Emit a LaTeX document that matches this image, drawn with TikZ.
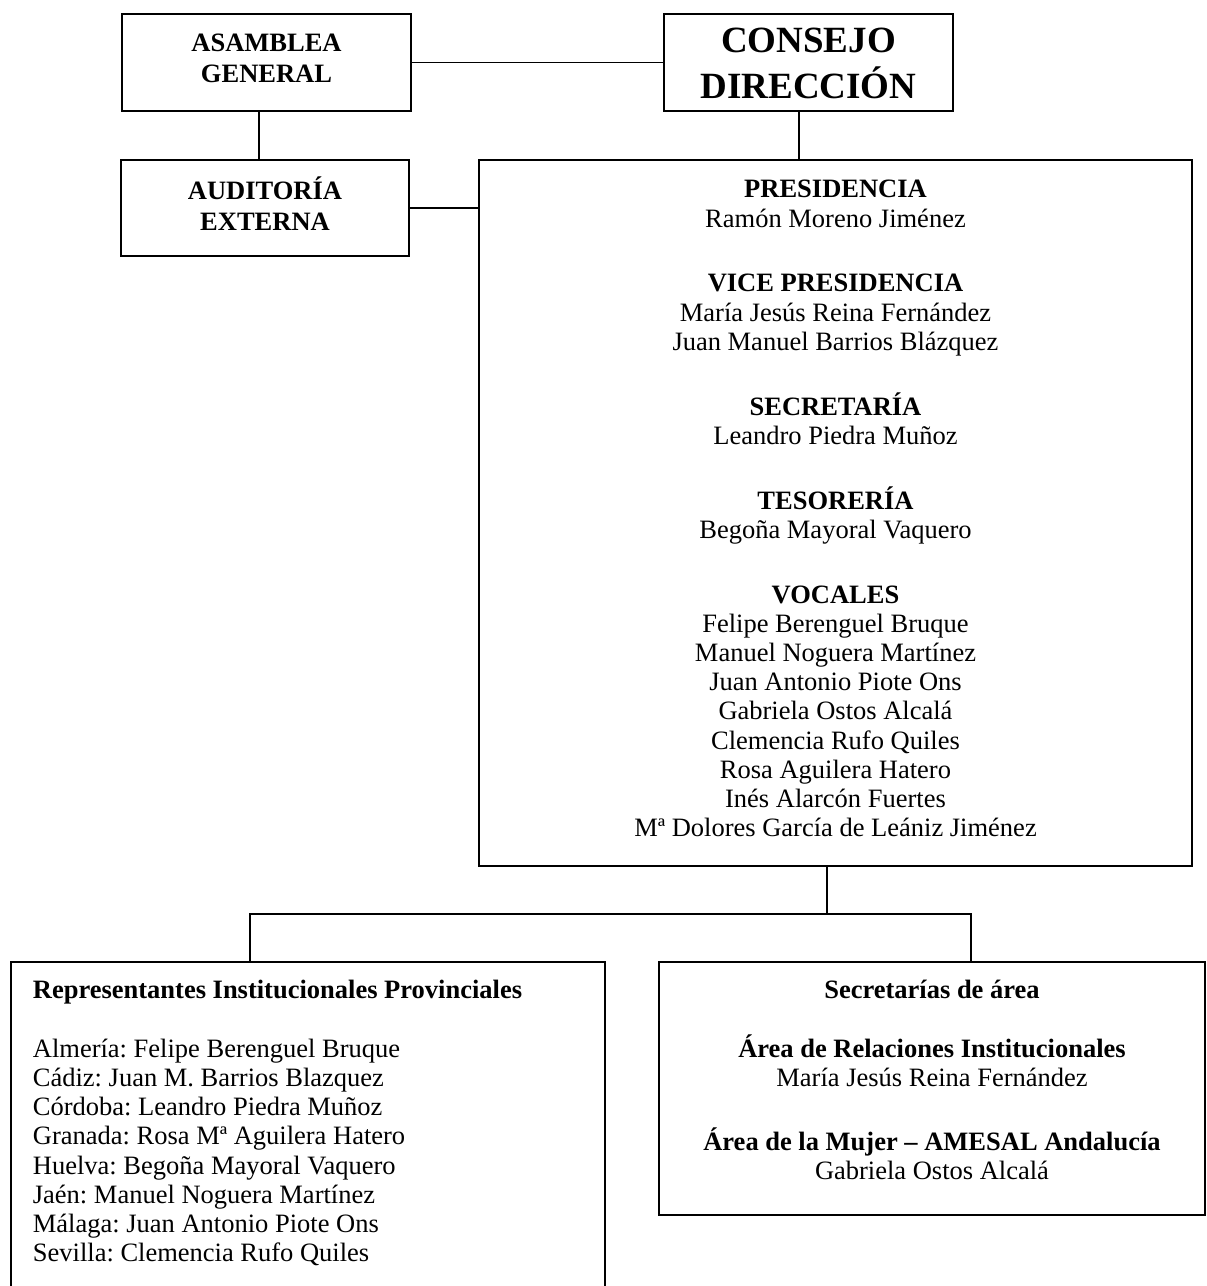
\documentclass[tikz,border=0pt]{standalone}
\usepackage{fontspec}
\setmainfont{Liberation Serif}
\frenchspacing
\newcommand\firststrut{\rule{0pt}{16pt}}
\begin{document}
\begin{tikzpicture}[x=0.5pt,y=-0.5pt,line width=0.9pt,
  box/.style={draw=black,rectangle,inner sep=0pt},
  txt/.style={inner sep=0pt,anchor=north,align=center,font=\fontsize{13.25}{14.6}\selectfont},
  hdr/.style={inner sep=0pt,anchor=north,align=center,font=\fontsize{13.25}{15.5}\selectfont\bfseries},
  txtl/.style={inner sep=0pt,anchor=north west,align=left,font=\fontsize{13.25}{14.6}\selectfont},
  big/.style={inner sep=0pt,anchor=north,align=center,font=\fontsize{18.5}{23}\selectfont\bfseries}]
\useasboundingbox (0,0) rectangle (1206,1286);
% boxes
\node[box,minimum width=144.5pt,minimum height=48.5pt] (asam) at (266.5,62.5) {};
\node[box,minimum width=144.5pt,minimum height=48.5pt] (cons) at (808.5,62.5) {};
\node[box,minimum width=144pt,minimum height=48pt] (aud) at (265,208) {};
\node[box,minimum width=356.5pt,minimum height=353pt] (main) at (835.5,513) {};
\node[box,minimum width=297pt,minimum height=169pt] (prov) at (308,1131) {};
\node[box,minimum width=273pt,minimum height=126.5pt] (sec) at (932,1088.5) {};
% texts
\node[hdr] (asamT) at (266.5,19) {\firststrut ASAMBLEA\\GENERAL};
\node[big] (consT) at (808.5,20) {\firststrut CONSEJO\\DIRECCIÓN};
\node[hdr] (audT) at (265,167) {\firststrut AUDITORÍA\\EXTERNA};
\node[txt] (mainT) at (835.5,165) {\firststrut\textbf{PRESIDENCIA}\\
Ramón Moreno Jiménez\\[17.8pt]
\textbf{VICE PRESIDENCIA}\\
María Jesús Reina Fernández\\
Juan Manuel Barrios Blázquez\\[17.8pt]
\textbf{SECRETARÍA}\\
Leandro Piedra Muñoz\\[17.8pt]
\textbf{TESORERÍA}\\
Begoña Mayoral Vaquero\\[17.8pt]
\textbf{VOCALES}\\
Felipe Berenguel Bruque\\
Manuel Noguera Martínez\\
Juan Antonio Piote Ons\\
Gabriela Ostos Alcalá\\
Clemencia Rufo Quiles\\
Rosa Aguilera Hatero\\
Inés Alarcón Fuertes\\
Mª Dolores García de Leániz Jiménez};
\node[txtl] (provT) at (32,966) {\firststrut\textbf{Representantes Institucionales Provinciales}\\[14.6pt]
Almería: Felipe Berenguel Bruque\\
Cádiz: Juan M. Barrios Blazquez\\
Córdoba: Leandro Piedra Muñoz\\
Granada: Rosa Mª Aguilera Hatero\\
Huelva: Begoña Mayoral Vaquero\\
Jaén: Manuel Noguera Martínez\\
Málaga: Juan Antonio Piote Ons\\
Sevilla: Clemencia Rufo Quiles};
\node[txt] (secT) at (932,966) {\firststrut\textbf{Secretarías de área}\\[14.6pt]
\textbf{Área de Relaciones Institucionales}\\
María Jesús Reina Fernández\\[17.4pt]
\textbf{Área de la Mujer – AMESAL Andalucía}\\
Gabriela Ostos Alcalá};
% connector helpers
\coordinate (xa) at (259,0);
\coordinate (xc) at (799,0);
\coordinate (xm) at (827,0);
\coordinate (bus) at (827,914);
\coordinate (bl) at (250,914);
\coordinate (br) at (971,914);
% connectors
\draw (asam.east) -- (asam.east -| cons.west);
\draw (xa |- asam.south) -- (xa |- aud.north);
\draw (aud.east) -- (aud.east -| main.west);
\draw (xc |- cons.south) -- (xc |- main.north);
\draw (xm |- main.south) -- (bus);
\draw (bl |- prov.north) -- (bl) -- (br) -- (br |- sec.north);
\end{tikzpicture}
\end{document}
